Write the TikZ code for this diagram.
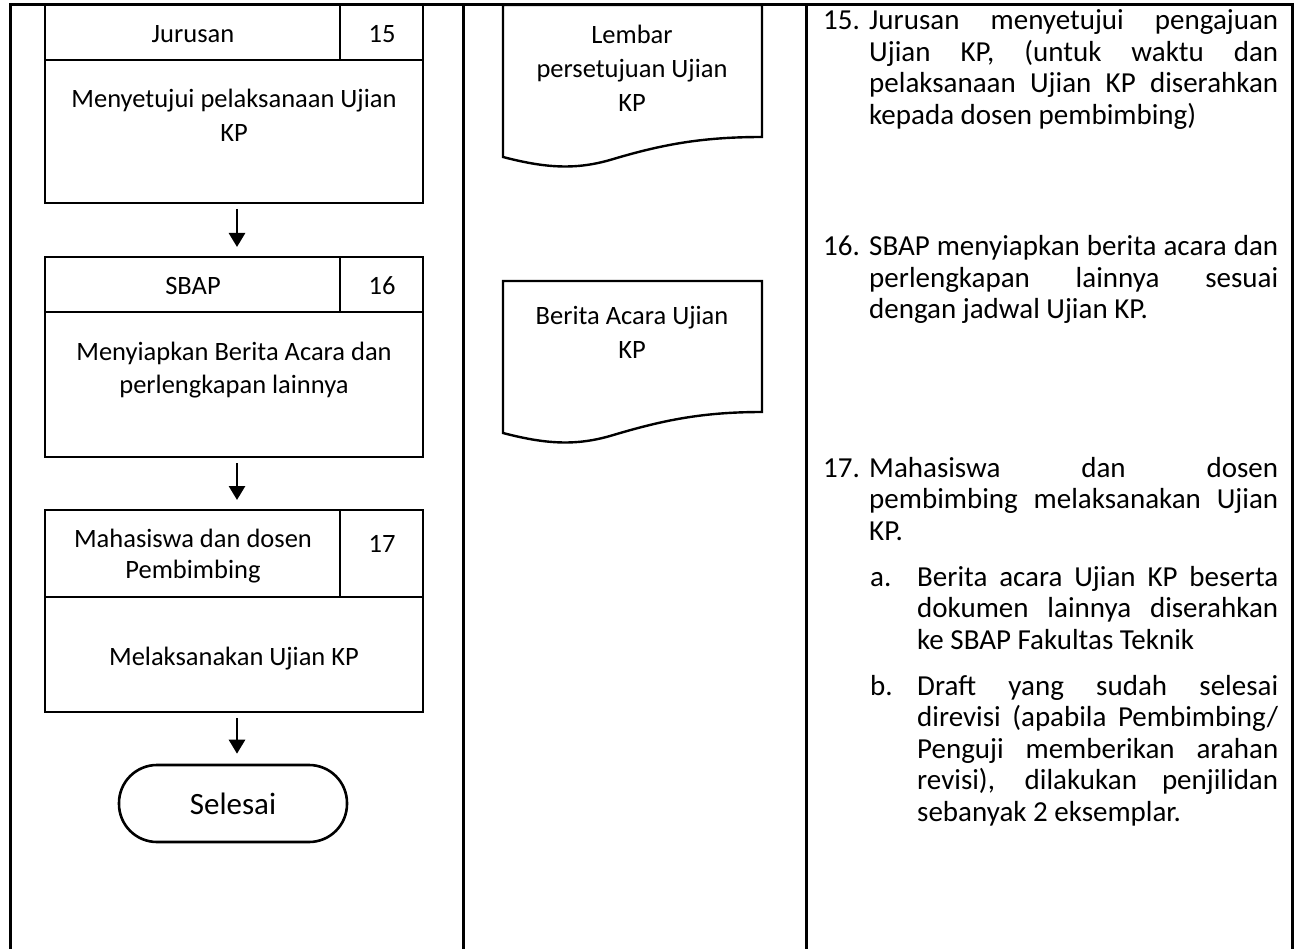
\documentclass[tikz,border=0pt]{standalone}
\usepackage{fontspec}
\setmainfont{Carlito}
\usetikzlibrary{arrows.meta}
\newlength{\jw}
\newcommand{\jl}[1]{\makebox[\jw][s]{#1}}
\begin{document}
\begin{tikzpicture}[x=1pt,y=-1pt,
  frame/.style={line width=3pt},
  cellbox/.style={draw, line width=2.6pt, inner sep=0pt, outer sep=0pt, anchor=north west},
  lbl/.style={inner sep=0pt, font=\fontsize{26.5}{34}\selectfont},
  doclbl/.style={inner sep=0pt, align=center, anchor=north, font=\fontsize{26.5}{34}\selectfont},
  rt/.style={inner sep=0pt, anchor=base west, font=\fontsize{29}{32}\selectfont},
  docline/.style={line width=2.4pt, line join=miter},
  arr/.style={line width=2.8pt, -{Triangle[length=14pt,width=16pt]}, shorten <=6pt, shorten >=10pt}
]
\useasboundingbox (0,0) rectangle (1300,949);
\fill[white] (0,0) rectangle (1300,949);

% table frame
\draw[frame] (10,949) -- (10,5) -- (1292,5) -- (1292,949);
\draw[frame] (463,5) -- (463,949);
\draw[frame] (806,5) -- (806,949);

% ---- box 15
\node[cellbox, minimum width=295pt, minimum height=55pt] (h15) at (45,5) {};
\node[cellbox, minimum width=83pt, minimum height=55pt] (k15) at (340,5) {};
\node[cellbox, minimum width=378pt, minimum height=143pt] (b15) at (45,60) {};
\node[lbl, anchor=base] (h15t) at (193,43) {Jurusan};
\node[lbl, anchor=base] (k15t) at (382,43) {15};
\node[lbl, align=center, anchor=north] (b15t) at (234,88.5) {Menyetujui pelaksanaan Ujian\\KP};

% ---- box 16
\node[cellbox, minimum width=295pt, minimum height=55pt] (h16) at (45,257) {};
\node[cellbox, minimum width=83pt, minimum height=55pt] (k16) at (340,257) {};
\node[cellbox, minimum width=378pt, minimum height=145pt] (b16) at (45,312) {};
\node[lbl, anchor=base] (h16t) at (193,295) {SBAP};
\node[lbl, anchor=base] (k16t) at (382,295) {16};
\node[lbl, align=center, anchor=north, font=\fontsize{26.5}{33}\selectfont] (b16t) at (234,341.5) {Menyiapkan Berita Acara dan\\perlengkapan lainnya};

% ---- box 17
\node[cellbox, minimum width=295pt, minimum height=87pt] (h17) at (45,510) {};
\node[cellbox, minimum width=83pt, minimum height=87pt] (k17) at (340,510) {};
\node[cellbox, minimum width=378pt, minimum height=115pt] (b17) at (45,597) {};
\node[lbl, align=center, anchor=north, font=\fontsize{26.5}{31}\selectfont] (h17t) at (193,528.5) {Mahasiswa dan dosen\\Pembimbing};
\node[lbl, anchor=base] (k17t) at (382,552) {17};
\node[lbl, anchor=base] (b17t) at (234,665) {Melaksanakan Ujian KP};

% ---- terminator
\node[draw, line width=2.6pt, rounded corners=38pt, minimum width=228pt, minimum height=77pt,
      inner sep=0pt, font=\fontsize{31}{36}\selectfont] (end) at (233,803.5) {Selesai};

% ---- arrows
\draw[arr] ([xshift=3pt]b15.south) -- ([xshift=3pt]b15.south |- h16.north);
\draw[arr] ([xshift=3pt]b16.south) -- ([xshift=3pt]b16.south |- h17.north);
\draw[arr] ([xshift=3pt]b17.south) -- ([xshift=3pt]b17.south |- end.north);

% ---- documents
\draw[docline] (503,5) -- (503,157) .. controls (545,168) and (575,170) .. (610,160)
  .. controls (660,145) and (700,137) .. (762,137) -- (762,5) -- cycle;
\node[doclbl] (doc1) at (632,24.5) {Lembar\\persetujuan Ujian\\KP};
\draw[docline] (503,281) -- (503,433) .. controls (545,444) and (575,446) .. (610,436)
  .. controls (660,421) and (700,412) .. (762,412) -- (762,281) -- cycle;
\node[doclbl] (doc2) at (632,306.5) {Berita Acara Ujian\\KP};

% ---- right column
\setlength{\jw}{409pt}
\node[rt] (n15) at (823,30) {15.};
\foreach \t [count=\i from 0] in {{\jl{Jurusan menyetujui pengajuan}},{\jl{Ujian KP, (untuk waktu dan}},{\jl{pelaksanaan Ujian KP diserahkan}},{kepada dosen pembimbing)}}
  \node[rt] (p15-\i) at (869,{30+31.5*\i}) {\t};

\node[rt] (n16) at (823,256) {16.};
\foreach \t [count=\i from 0] in {{\jl{SBAP menyiapkan berita acara dan}},{\jl{perlengkapan lainnya sesuai}},{dengan jadwal Ujian KP.}}
  \node[rt] (p16-\i) at (869,{256+31.5*\i}) {\t};

\node[rt] (n17) at (823,477) {17.};
\foreach \t [count=\i from 0] in {{\jl{Mahasiswa dan dosen}},{\jl{pembimbing melaksanakan Ujian}},{KP.}}
  \node[rt] (p17-\i) at (869,{477+31.5*\i}) {\t};

\setlength{\jw}{361pt}
\node[rt] (na) at (870,586) {a.};
\foreach \t [count=\i from 0] in {{\jl{Berita acara Ujian KP beserta}},{\jl{dokumen lainnya diserahkan}},{ke SBAP Fakultas Teknik}}
  \node[rt] (pa-\i) at (917,{586+31.5*\i}) {\t};

\node[rt] (nb) at (870,695) {b.};
\foreach \t [count=\i from 0] in {{\jl{Draft yang sudah selesai}},{\jl{direvisi (apabila Pembimbing/}},{\jl{Penguji memberikan arahan}},{\jl{revisi), dilakukan penjilidan}},{sebanyak 2 eksemplar.}}
  \node[rt] (pb-\i) at (917,{695+31.5*\i}) {\t};
\end{tikzpicture}
\end{document}
